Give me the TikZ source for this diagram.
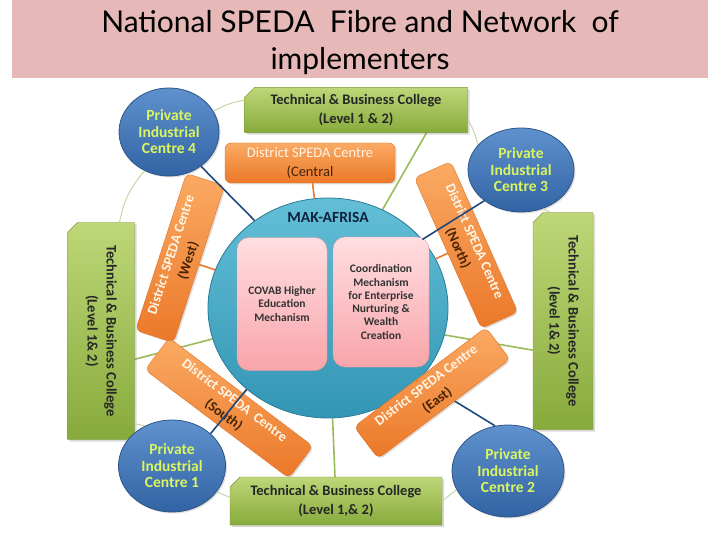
\documentclass[tikz,border=0pt]{standalone}
\usepackage{fontspec}
\setmainfont{Carlito}
\newfontfamily\titlefont{Lato}
\usetikzlibrary{shapes.geometric, shapes.misc, shadows, positioning, calc, backgrounds}

\definecolor{titlepink}{RGB}{230,185,184}
\definecolor{collegetop}{RGB}{190,215,120}
\definecolor{collegebot}{RGB}{135,170,60}
\definecolor{collegeedge}{RGB}{120,150,55}
\definecolor{spedatop}{RGB}{250,170,100}
\definecolor{spedabot}{RGB}{235,120,40}
\definecolor{spedaedge}{RGB}{225,115,35}
\definecolor{spedalight}{RGB}{255,245,230}
\definecolor{spedadark}{RGB}{70,35,5}
\definecolor{privtop}{RGB}{95,145,205}
\definecolor{privbot}{RGB}{50,100,165}
\definecolor{privedge}{RGB}{45,85,135}
\definecolor{privtext}{RGB}{218,245,95}
\definecolor{hubtop}{RGB}{100,190,215}
\definecolor{hubbot}{RGB}{50,150,180}
\definecolor{hubedge}{RGB}{40,125,150}
\definecolor{hubtext}{RGB}{15,35,60}
\definecolor{mechtop}{RGB}{255,222,225}
\definecolor{mechbot}{RGB}{248,165,170}
\definecolor{mechedge}{RGB}{230,150,155}
\definecolor{ringgreen}{RGB}{195,210,160}
\definecolor{spokegreen}{RGB}{155,187,89}
\definecolor{tieblue}{RGB}{31,73,125}

\begin{document}
\begin{tikzpicture}[x=1pt, y=-1pt,
        college/.style={chamfered rectangle, chamfered rectangle corners=north west, chamfered rectangle xsep=5pt, chamfered rectangle ysep=5pt, draw=collegeedge, top color=collegetop, bottom color=collegebot, font=\fontsize{14.5}{19}\selectfont\bfseries, text=black!85, align=center, inner sep=2pt, drop shadow={opacity=0.3, shadow xshift=2pt, shadow yshift=-2pt}},
        speda/.style={rectangle, rounded corners=6pt, draw=spedaedge, top color=spedatop, bottom color=spedabot, minimum height=40pt, align=center, inner sep=2pt, font=\fontsize{14.5}{19}\selectfont, drop shadow={opacity=0.25, shadow xshift=1.5pt, shadow yshift=-1.5pt}},
        privc/.style={ellipse, draw=privedge, thick, top color=privtop, bottom color=privbot, text=privtext, font=\fontsize{15.5}{16.5}\selectfont\bfseries, align=center, inner sep=0pt, drop shadow={opacity=0.25, shadow xshift=1.5pt, shadow yshift=-1.5pt}},
        hub/.style={ellipse, draw=hubedge, thick, top color=hubtop, bottom color=hubbot, minimum width=240pt, minimum height=220pt, inner sep=0pt},
        mech/.style={rectangle, rounded corners=12pt, draw=mechedge, top color=mechtop, bottom color=mechbot, align=center, font=\fontsize{11.5}{13.3}\selectfont\bfseries, text=black!80},
        ring/.style={draw=ringgreen, line width=0.9pt},
        spoke/.style={draw=spokegreen, line width=1.6pt},
        tie/.style={draw=tieblue, line width=1.6pt},
        stub/.style={draw=spedabot, line width=1.6pt}
    ]
    \useasboundingbox (0,0) rectangle (720,540);
    % title band
    \fill[titlepink] (12,0) rectangle (708,78);
    \node[font=\titlefont\fontsize{30}{37}\selectfont, align=center] (title) at (360,43) {National SPEDA\ \ Fibre and Network\ \ of\\implementers};

    % centre
    \node[hub] (hub) at (328,308) {};
    \node[font=\fontsize{15.5}{17}\selectfont\bfseries, text=hubtext, below=11pt of hub.north] (maktitle) {MAK-AFRISA};
    \node[mech, minimum width=90pt, minimum height=133pt] (covab) at (282,304) {COVAB Higher\\Education\\Mechanism};
    \node[mech, minimum width=96pt, minimum height=130pt] (coord) at (381,302) {Coordination\\Mechanism\\for Enterprise\\Nurturing \&\\Wealth\\Creation};

    % colleges
    \node[college, minimum width=223pt, minimum height=45pt] (tbctop) at (356,110) {Technical \& Business College\\(Level 1 \& 2)};
    \node[college, minimum width=67pt, minimum height=217pt] (tbcleft) at (101,331) {\rotatebox{-90}{\begin{tabular}{@{}c@{}}Technical \& Business College\\(Level 1\& 2)\end{tabular}}};
    \node[college, minimum width=60pt, minimum height=217pt] (tbcright) at (563,321) {\rotatebox{-90}{\begin{tabular}{@{}c@{}}Technical \& Business College\\(level 1\& 2)\end{tabular}}};
    \node[college, minimum width=212pt, minimum height=48pt] (tbcbottom) at (336,501) {Technical \& Business College\\(Level 1,\& 2)};

    % private industrial centres
    \node[privc, minimum width=100pt, minimum height=88pt] (pinc4) at (169,132) {Private\\Industrial\\Centre 4};
    \node[privc, minimum width=106pt, minimum height=84pt] (pinc3) at (521,170) {Private\\Industrial\\Centre 3};
    \node[privc, minimum width=107pt, minimum height=92pt] (pinc1) at (172,466) {Private\\Industrial\\Centre 1};
    \node[privc, minimum width=112pt, minimum height=92pt] (pinc2) at (508,471) {Private\\Industrial\\Centre 2};

    % links behind the boxes
    \begin{scope}[on background layer]
        \draw[spoke] (tbctop.-18) -- (hub.61);
        \draw[spoke] (tbcleft.-40) -- (hub.195);
        \draw[spoke] (tbcright.224) -- (hub.-13);
        \draw[spoke] (hub) -- (tbcbottom);
        \draw[tie] (pinc2.106) -- (hub.-38);
    \end{scope}

    % district centres
    \node[speda, minimum width=170pt] (dcentral) at (310,163) {\textcolor{spedalight}{District SPEDA Centre}\\\textcolor{spedadark}{(Central}};
    \node[speda, minimum width=165pt, rotate=72, font=\fontsize{14}{18}\selectfont\bfseries] (dwest) at (180,258) {\textcolor{spedalight}{District SPEDA Centre}\\\textcolor{spedadark}{(West)}};
    \node[speda, minimum width=165pt, rotate=-66, font=\fontsize{14}{18}\selectfont\bfseries] (dnorth) at (466,245) {\textcolor{spedalight}{District SPEDA Centre}\\\textcolor{spedadark}{(North)}};
    \node[speda, minimum width=180pt, rotate=-37, font=\fontsize{14}{18}\selectfont\bfseries] (dsouth) at (229,408) {\textcolor{spedalight}{District SPEDA\ \ Centre}\\\textcolor{spedadark}{(South)}};
    \node[speda, minimum width=165pt, rotate=37, font=\fontsize{14}{18}\selectfont\bfseries] (deast) at (432,393) {\textcolor{spedalight}{District SPEDA Centre}\\\textcolor{spedadark}{(East)}};

    \draw[stub] (dcentral) -- (hub);
    \draw[stub] (dwest) -- (hub);
    \draw[stub] (dnorth) -- (hub);
    \draw[stub] (dsouth) -- (hub);
    \draw[stub] (deast) -- (hub);

    % outer ring
    \draw[ring] (pinc4.25) to[bend left=10] (tbctop.175);
    \draw[ring] (tbctop.-5) to[bend left=10] (pinc3.150);
    \draw[ring] (pinc3.-60) -- (tbcright.97);
    \draw[ring] (pinc4.238) to[bend right=15] ($(tbcleft.north)!0.55!(tbcleft.north east)$);
    \draw[ring] (tbcleft.-70) -- (pinc1.124);
    \draw[ring] (pinc1.-30) -- (tbcbottom.178);
    \draw[ring] (tbcbottom.east) -- (pinc2.200);

    % ties to the centre
    \draw[tie] (pinc4.-47) -- (hub.130);
    \draw[tie] (pinc3.220) -- (hub.36);
    \draw[tie] (pinc1.40) -- (hub.225);
\end{tikzpicture}
\end{document}
